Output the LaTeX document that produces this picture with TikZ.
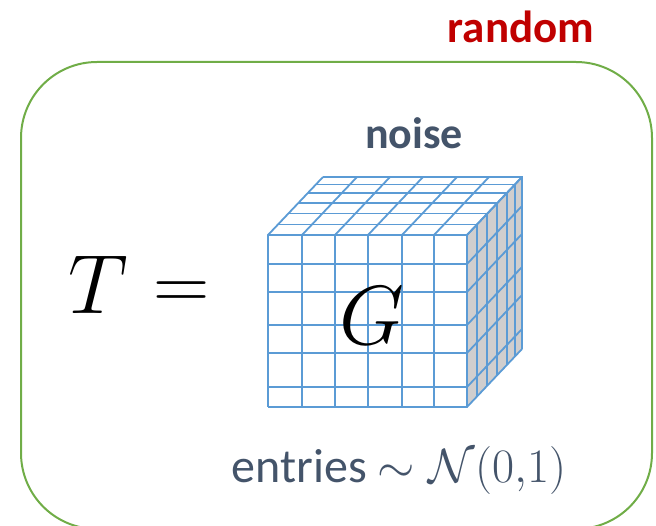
\RequirePackage{fix-cm}
\documentclass[tikz,border=0pt]{standalone}
\usepackage[no-math]{fontspec}
\setmainfont{Carlito}
\definecolor{gborder}{HTML}{70AD47}
\definecolor{cblue}{HTML}{5B9BD5}
\definecolor{dred}{HTML}{C00000}
\definecolor{slate}{HTML}{44546A}
\definecolor{sidegray}{HTML}{D0CECE}
\begin{document}
\begin{tikzpicture}[x=1pt,y=-1pt,
  gridline/.style={draw=cblue,line width=1.8pt},
  lbl/.style={inner sep=0pt, anchor=base}]
\useasboundingbox (0,0) rectangle (656,526);
\begin{scope}
\clip (0,0) rectangle (656,526);
\draw[gborder, line width=2pt, rounded corners=76pt] (21,62) rectangle (652,529);
\end{scope}
% cube faces
\fill[sidegray] (467,235) -- (522,177) -- (522,349) -- (467,407) -- cycle;
\fill[white] (268,235) -- (323,177) -- (522,177) -- (467,235) -- cycle;
\fill[white] (268,235) rectangle (467,407);
% grid lines
\foreach \x in {268,302,335,368,402,434,467}
  \draw[gridline] (\x,407) -- (\x,235) -- ++(55,-58);
\foreach \y in {235,264,292,325,353,387,407}
  \draw[gridline] (268,\y) -- (467,\y) -- ++(55,-58);
\foreach \f in {0.18,0.37,0.55,0.72,0.87,1}
  \draw[gridline] ({268+\f*55},{235-\f*58}) -- ++(199,0) -- ++(0,172);
% texts
\node[lbl, text=dred, font=\fontsize{45}{54}\selectfont\bfseries] (random) at (521,43) {random};
\node[lbl, text=slate, font=\fontsize{44}{52}\selectfont\bfseries] (noise) at (414,149) {noise};
\node[lbl, font=\fontsize{84}{96}\selectfont] (T) at (98.5,314) {$T$};
\node[lbl, font=\fontsize{78}{90}\selectfont] (eq) at (181.5,310) {$=$};
\node[lbl, font=\fontsize{84}{96}\selectfont] (G) at (372,345) {$G$};
\node[lbl, text=slate, font=\fontsize{48}{56}\selectfont] (entries) at (399,482) {entries $\sim \mathcal{N}(0{,}1)$};
\end{tikzpicture}
\end{document}
